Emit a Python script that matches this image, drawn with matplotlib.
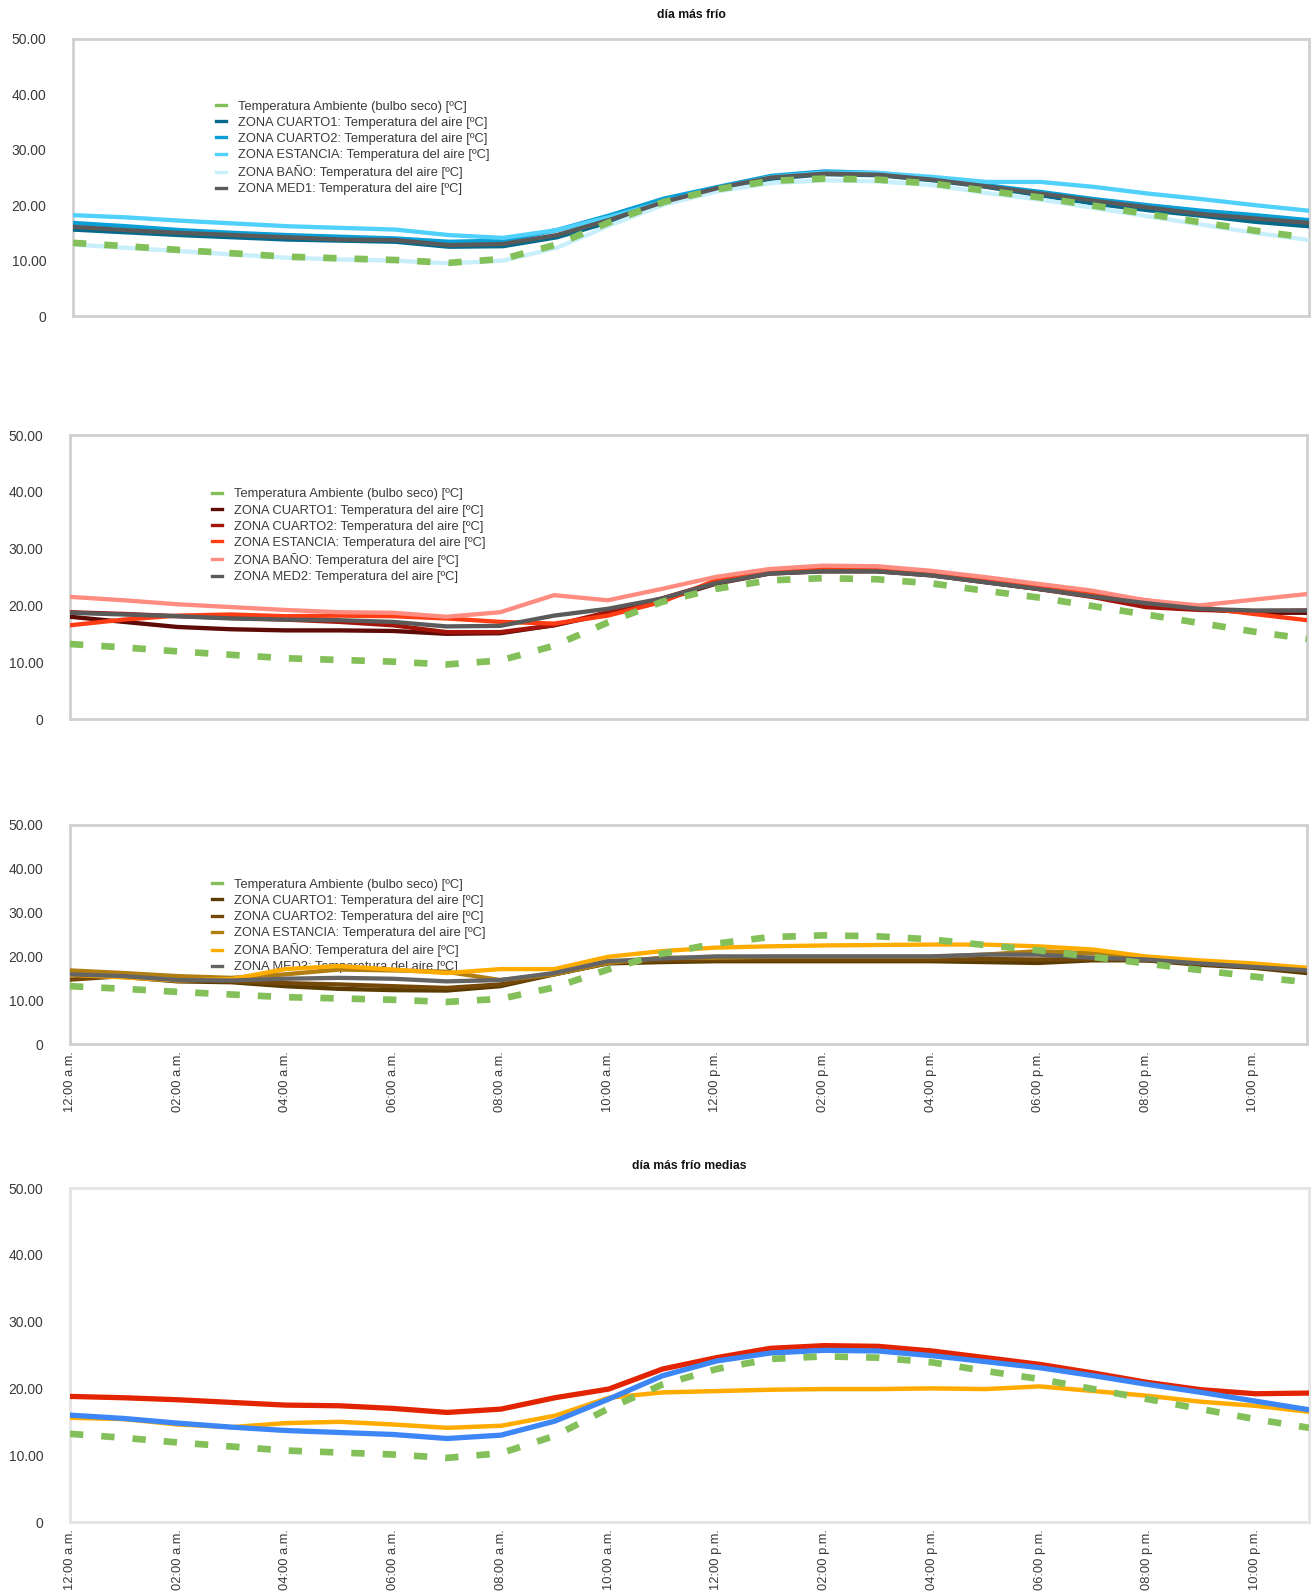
import matplotlib
matplotlib.use("Agg")
import matplotlib.pyplot as plt
from matplotlib.lines import Line2D

plt.rcParams["font.family"] = ["Liberation Sans", "DejaVu Sans"]

# ---- data -------------------------------------------------------------
hours = list(range(24))
tick_hours = list(range(0, 24, 2))
tick_labels = ["12:00 a.m.", "02:00 a.m.", "04:00 a.m.", "06:00 a.m.",
               "08:00 a.m.", "10:00 a.m.", "12:00 p.m.", "02:00 p.m.",
               "04:00 p.m.", "06:00 p.m.", "08:00 p.m.", "10:00 p.m."]
y_ticks = [0, 10, 20, 30, 40, 50]
y_labels = ["0", "10.00", "20.00", "30.00", "40.00", "50.00"]

ambient = [13.2, 12.6, 11.9, 11.3, 10.7, 10.4, 10.1, 9.6, 10.3, 12.9, 17.0, 20.6,
           22.9, 24.4, 24.8, 24.6, 23.9, 22.6, 21.4, 19.9, 18.4, 16.9, 15.4, 14.1]

# group 1
g1_cuarto1 = [15.6, 15.1, 14.6, 14.2, 13.8, 13.6, 13.4, 12.5, 12.6, 14.2, 17.0, 20.3,
              22.9, 24.8, 25.6, 25.4, 24.5, 23.3, 21.8, 20.3, 19.1, 18.1, 17.0, 16.2]
g1_cuarto2 = [16.8, 16.2, 15.5, 15.0, 14.6, 14.3, 14.0, 13.4, 13.6, 15.5, 18.2, 21.2,
              23.3, 25.3, 26.1, 25.8, 24.8, 23.6, 22.4, 21.1, 20.0, 19.0, 18.2, 17.3]
g1_estancia = [18.2, 17.8, 17.2, 16.7, 16.2, 15.9, 15.6, 14.6, 14.1, 15.5, 17.9, 20.6,
               23.0, 25.1, 25.9, 25.8, 25.1, 24.2, 24.2, 23.3, 22.1, 21.1, 20.0, 19.0]
g1_bano = [12.9, 12.3, 11.7, 11.1, 10.5, 10.2, 10.0, 9.5, 10.0, 12.3, 16.4, 20.1,
           22.5, 24.0, 24.5, 24.3, 23.6, 22.2, 21.0, 19.5, 18.0, 16.5, 15.0, 13.7]
g1_med = [16.1, 15.5, 15.0, 14.6, 14.2, 13.8, 13.7, 12.8, 13.0, 14.6, 17.4, 20.6,
          23.1, 25.0, 25.7, 25.5, 24.6, 23.4, 22.1, 20.8, 19.6, 18.4, 17.6, 16.8]

# group 2
g2_cuarto1 = [18.0, 17.1, 16.2, 15.8, 15.6, 15.6, 15.5, 15.0, 15.1, 16.5, 18.5, 20.9,
              23.8, 25.6, 26.0, 26.0, 25.3, 24.1, 22.9, 21.8, 20.6, 19.4, 18.7, 18.7]
g2_cuarto2 = [18.8, 18.5, 18.1, 17.8, 17.5, 17.1, 16.5, 15.3, 15.3, 16.5, 18.8, 21.2,
              24.0, 25.8, 26.2, 26.1, 25.4, 24.2, 22.9, 21.5, 19.7, 19.2, 19.0, 19.1]
g2_estancia = [16.5, 17.5, 18.2, 18.4, 18.1, 18.2, 18.1, 17.7, 17.1, 16.8, 18.2, 20.6,
               24.4, 26.0, 26.4, 26.3, 25.4, 24.4, 23.2, 22.0, 20.9, 19.7, 18.5, 17.4]
g2_bano = [21.5, 20.9, 20.2, 19.7, 19.2, 18.8, 18.7, 18.0, 18.8, 21.8, 20.9, 22.9,
           25.0, 26.4, 27.0, 26.9, 26.1, 25.0, 23.8, 22.6, 20.9, 20.0, 21.0, 22.0]
g2_med = [18.7, 18.4, 18.1, 17.7, 17.5, 17.4, 17.1, 16.3, 16.4, 18.2, 19.4, 21.2,
          23.9, 25.6, 26.0, 26.0, 25.3, 24.1, 22.9, 21.6, 20.4, 19.4, 19.1, 19.1]

# group 3
g3_cuarto1 = [15.9, 15.3, 14.3, 14.1, 13.2, 12.6, 12.3, 12.2, 13.2, 15.9, 18.4, 18.7,
              18.9, 18.9, 18.9, 18.9, 18.9, 18.7, 18.5, 19.1, 19.1, 18.1, 17.4, 16.2]
g3_cuarto2 = [14.7, 15.5, 14.7, 14.3, 13.9, 13.6, 13.2, 12.8, 13.6, 15.9, 18.5, 19.1,
              19.3, 19.3, 19.3, 19.3, 19.3, 19.4, 19.3, 19.4, 19.1, 18.4, 17.6, 16.6]
g3_estancia = [16.8, 16.2, 15.5, 15.1, 15.9, 17.0, 16.8, 16.5, 14.6, 15.9, 18.5, 19.7,
               19.7, 19.9, 19.9, 19.9, 19.9, 20.4, 21.2, 20.7, 19.7, 18.7, 17.9, 17.1]
g3_bano = [15.8, 15.2, 14.5, 14.8, 17.1, 17.8, 17.0, 16.2, 17.1, 17.1, 19.9, 21.2,
           22.0, 22.3, 22.5, 22.6, 22.7, 22.7, 22.3, 21.6, 20.0, 19.1, 18.4, 17.4]
g3_med = [15.9, 15.5, 14.6, 14.5, 14.9, 15.1, 14.9, 14.3, 14.6, 16.2, 18.9, 19.5,
          20.0, 20.0, 20.0, 20.0, 20.0, 20.4, 20.4, 19.7, 19.3, 18.4, 17.6, 16.8]

# daily means per group
mean_red = [18.8, 18.6, 18.3, 17.9, 17.5, 17.4, 17.0, 16.4, 16.9, 18.6, 19.9, 22.9,
            24.6, 26.0, 26.4, 26.3, 25.6, 24.6, 23.6, 22.3, 20.9, 19.8, 19.2, 19.3]
mean_blue = [16.0, 15.5, 14.8, 14.2, 13.7, 13.4, 13.1, 12.5, 13.0, 15.1, 18.4, 21.9,
             24.1, 25.3, 25.7, 25.6, 24.9, 24.0, 23.1, 21.9, 20.6, 19.4, 18.1, 16.8]
mean_orange = [15.6, 15.4, 14.6, 14.2, 14.8, 15.0, 14.6, 14.1, 14.4, 15.9, 18.6, 19.4,
               19.6, 19.8, 19.9, 19.9, 20.0, 19.9, 20.3, 19.6, 18.9, 18.0, 17.4, 16.5]

ambient_label = "Temperatura Ambiente (bulbo seco) [ºC]"
zone_labels_1 = ["ZONA CUARTO1: Temperatura del aire [ºC]",
                 "ZONA CUARTO2: Temperatura del aire [ºC]",
                 "ZONA ESTANCIA: Temperatura del aire [ºC]",
                 "ZONA BAÑO: Temperatura del aire [ºC]",
                 "ZONA MED1: Temperatura del aire [ºC]"]
zone_labels_2 = zone_labels_1[:4] + ["ZONA MED2: Temperatura del aire [ºC]"]
zone_labels_3 = zone_labels_1[:4] + ["ZONA MED3: Temperatura del aire [ºC]"]

# ---- styling ------------------------------------------------------------
GREEN = "#84c05a"
colors_1 = ["#046a8c", "#0a9fd6", "#4fd1fb", "#c9effb", "#5a5a5a"]
colors_2 = ["#5e0a06", "#a3150b", "#ff3d14", "#ff8c80", "#5a5a5a"]
colors_3 = ["#5a3c02", "#744808", "#b07e12", "#ffac00", "#646464"]
TEXT = "#3a3a3a"

W, H = 1312, 1593
fig = plt.figure(figsize=(W / 100, H / 100), dpi=100)


def axes_px(left, top, right, bottom):
    return fig.add_axes([left / W, 1 - bottom / H, (right - left) / W, (bottom - top) / H])


def style_axes(ax, frame_color, show_x):
    ax.set_xlim(0, 23)
    ax.set_ylim(0, 50)
    ax.set_yticks(y_ticks)
    ax.set_yticklabels(y_labels)
    ax.tick_params(axis="y", length=0, pad=19, labelsize=10, labelcolor=TEXT)
    for s in ax.spines.values():
        s.set_color(frame_color)
        s.set_linewidth(2.0)
    if show_x:
        ax.set_xticks(tick_hours)
        ax.set_xticklabels(tick_labels, rotation=90, va="top", ha="center")
        ax.tick_params(axis="x", length=0, pad=5, labelsize=9.3, labelcolor=TEXT)
    else:
        ax.set_xticks([])


def draw_ambient(ax, lw):
    ax.plot(hours, ambient, color=GREEN, lw=lw, dashes=(2.0, 2.7),
            solid_capstyle="butt", dash_capstyle="butt", zorder=10)


def draw_group(ax, series, colors, labels, legend_anchor):
    for i, (vals, col) in enumerate(zip(series, colors)):
        ax.plot(hours, vals, color=col, lw=3.1, solid_joinstyle="round",
                solid_capstyle="round", zorder=3 + i)
    draw_ambient(ax, 4.8)
    handles = [Line2D([], [], color=GREEN, lw=2.4)]
    handles += [Line2D([], [], color=c, lw=2.4) for c in colors]
    leg = ax.legend(handles, [ambient_label] + labels, loc="upper left",
                    bbox_to_anchor=legend_anchor, frameon=False, fontsize=9.3,
                    handlelength=0.8, handletextpad=0.95, labelspacing=0.32,
                    borderpad=0, borderaxespad=0)
    for t in leg.get_texts():
        t.set_color(TEXT)
    leg.set_zorder(1)


# panel 1
ax1 = axes_px(73, 39, 1309, 316)
style_axes(ax1, "#d0d0d0", False)
draw_group(ax1, [g1_cuarto1, g1_cuarto2, g1_estancia, g1_bano, g1_med],
           colors_1, zone_labels_1, (0.1155, 0.778))
fig.text((73 + 1309) / 2 / W, 1 - 15 / H, "día más frío", ha="center", va="center",
         fontsize=8.8, fontweight="bold", color="#111111")

# panel 2
ax2 = axes_px(70, 435, 1307, 719)
style_axes(ax2, "#d0d0d0", False)
draw_group(ax2, [g2_cuarto1, g2_cuarto2, g2_estancia, g2_bano, g2_med],
           colors_2, zone_labels_2, (0.1145, 0.812))

# panel 3
ax3 = axes_px(70, 825, 1307, 1044)
style_axes(ax3, "#d0d0d0", True)
draw_group(ax3, [g3_cuarto1, g3_cuarto2, g3_estancia, g3_bano, g3_med],
           colors_3, zone_labels_3, (0.1145, 0.755))

# panel 4: daily means
ax4 = axes_px(70, 1188, 1309, 1522)
style_axes(ax4, "#e4e4e4", True)
ax4.plot(hours, mean_orange, color="#ffab00", lw=3.2, zorder=3)
ax4.plot(hours, mean_red, color="#e22400", lw=3.8, zorder=4)
ax4.plot(hours, mean_blue, color="#3d86f5", lw=3.8, zorder=5)
draw_ambient(ax4, 4.8)
fig.text((70 + 1309) / 2 / W, 1 - 1166 / H, "día más frío medias", ha="center",
         va="center", fontsize=8.8, fontweight="bold", color="#111111")

fig.savefig("out.png", dpi=100)
